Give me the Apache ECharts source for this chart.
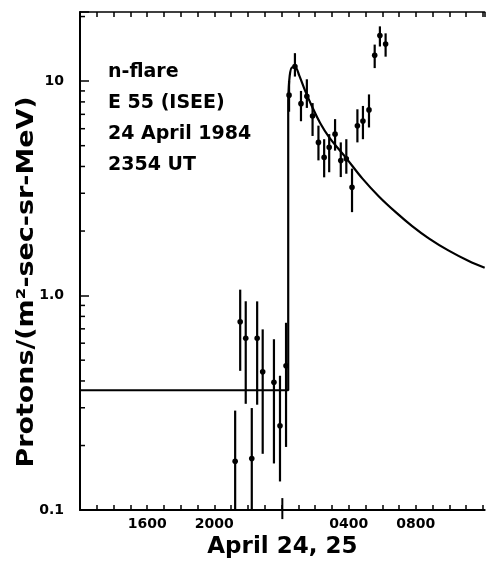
<!DOCTYPE html>
<html>
<head>
<meta charset="utf-8">
<script src="https://cdn.jsdelivr.net/npm/echarts@6/dist/echarts.min.js"></script>
<style>
  html, body { margin: 0; padding: 0; background: #fff; }
  #chart { width: 486px; height: 564px; }
</style>
</head>
<body>
<div id="chart"></div>
<script>
// time in hours from 00:00 UT April 24 (28 = 0400 on April 25)
const obsHours = [21.24, 21.54, 21.87, 22.23, 22.55, 22.88, 23.55, 23.91, 24.27, 24.45, 24.80, 25.16, 25.51, 25.85, 26.20, 26.54, 26.84, 27.19, 27.53, 27.86, 28.20, 28.52, 28.85, 29.21, 29.55, 29.86, 30.20];
const obsFlux = [0.169, 0.755, 0.632, 0.174, 0.632, 0.441, 0.394, 0.247, 0.471, 8.6, 11.7, 7.85, 8.5, 6.88, 5.18, 4.41, 4.91, 5.66, 4.26, 4.34, 3.20, 6.19, 6.52, 7.34, 13.2, 16.3, 14.9];
const obsLow = [0.1, 0.446, 0.313, 0.1, 0.31, 0.183, 0.165, 0.136, 0.197, 7.2, 10.5, 6.5, 7.5, 5.55, 4.27, 3.56, 3.76, 4.74, 3.57, 3.70, 2.45, 5.18, 5.36, 6.08, 11.5, 14.5, 13.0];
const obsHigh = [0.291, 1.066, 0.941, 0.299, 0.94, 0.696, 0.626, 0.423, 0.747, 10.0, 13.5, 9.0, 10.2, 7.9, 6.2, 5.36, 5.66, 6.65, 5.18, 5.36, 3.91, 7.39, 7.66, 8.67, 14.8, 18.0, 16.7];

// model curve: flat background, prompt rise, then decay
const baseHours = [12, 24.40, 24.40];
const baseFlux = [0.362, 0.362, 8.08];
const decayHours = [24.40, 24.49, 24.64, 24.82, 25.06, 25.41, 25.85, 26.30, 26.84, 27.83, 28.81, 29.80, 30.80, 31.78, 32.77, 33.96, 35.15, 36.10];
const decayFlux = [8.08, 10.6, 11.6, 11.6, 10.6, 9.0, 7.52, 6.38, 5.47, 4.40, 3.52, 2.90, 2.45, 2.11, 1.85, 1.62, 1.45, 1.35];

const xTickHours = [16, 20, 28, 32];
const xTickText = ['1600', '2000', '0400', '0800'];
const yTickValues = [0.1, 1, 10];
const yTickText = ['0.1', '1.0', '10'];
const yMinorValues = [0.2, 0.3, 0.4, 0.5, 0.6, 0.7, 0.8, 0.9, 2, 3, 4, 5, 6, 7, 8, 9, 20];
const flareHour = 24.05;
const notes = ['n-flare', 'E 55 (ISEE)', '24 April 1984', '2354 UT'];

const FONT = 'DejaVu Sans';
const chart = echarts.init(document.getElementById('chart'));

const errData = obsHours.map((h, i) => [h, obsLow[i], obsHigh[i], obsFlux[i]]);

const option = {
    backgroundColor: '#fff',
    animation: false,
    grid: { left: 80, right: 0, top: 12, bottom: 51 },
    xAxis: [
        {
            type: 'value', min: 12, max: 36.1, interval: 1,
            axisLine: { lineStyle: { color: '#000', width: 2 } },
            axisTick: { inside: true, length: 5, lineStyle: { color: '#000', width: 1.5 } },
            splitLine: { show: false },
            axisLabel: {
                color: '#000', fontFamily: FONT, fontWeight: 'bold', fontSize: 14, margin: 7,
                showMaxLabel: false, showMinLabel: false,
                formatter: v => { const k = xTickHours.indexOf(v); return k < 0 ? '' : xTickText[k]; }
            },
            name: 'April 24, 25', nameLocation: 'middle', nameGap: 24,
            nameTextStyle: { color: '#000', fontFamily: FONT, fontWeight: 'bold', fontSize: 23 }
        },
        {
            type: 'value', position: 'top', min: 12, max: 36.1, interval: 1,
            axisLine: { lineStyle: { color: '#000', width: 1.5 } },
            axisTick: { inside: true, length: 5, lineStyle: { color: '#000', width: 1.5 } },
            axisLabel: { show: false }, splitLine: { show: false }
        }
    ],
    yAxis: {
        type: 'log', min: 0.1, max: 21,
        axisLine: { show: true, lineStyle: { color: '#000', width: 2 } },
        axisTick: { show: true, inside: true, length: 9, lineStyle: { color: '#000', width: 1.5 } },
        splitLine: { show: false },
        axisLabel: {
            color: '#000', fontFamily: FONT, fontWeight: 'bold', fontSize: 14, margin: 16,
            formatter: v => {
                const k = yTickValues.findIndex(t => Math.abs(t - v) < 1e-6);
                return k < 0 ? '' : yTickText[k];
            }
        }
    },
    graphic: [
        {
            type: 'text', x: 27, y: 282, rotation: Math.PI / 2, scaleX: 1.17,
            style: {
                text: 'Protons/(m²-sec-sr-MeV)', fill: '#000',
                font: 'bold 23px "' + FONT + '"', textAlign: 'center', textVerticalAlign: 'middle'
            }
        }
    ].concat(notes.map((t, i) => ({
        type: 'text', x: 108, y: 72 + i * 31,
        style: { text: t, fill: '#000', font: 'bold 19px "' + FONT + '"', textAlign: 'left', textVerticalAlign: 'middle' }
    }))),
    series: [
        {
            type: 'line', data: baseHours.map((h, i) => [h, baseFlux[i]]),
            showSymbol: false, lineStyle: { color: '#000', width: 2.2 }, z: 3
        },
        {
            type: 'line', data: decayHours.map((h, i) => [h, decayFlux[i]]),
            showSymbol: false, smooth: 0.35, lineStyle: { color: '#000', width: 2.2 }, z: 3
        },
        {
            type: 'custom', data: errData, z: 4,
            renderItem: function (params, api) {
                const x = api.value(0);
                const lo = api.coord([x, api.value(1)]);
                const hi = api.coord([x, api.value(2)]);
                const mid = api.coord([x, api.value(3)]);
                return {
                    type: 'group',
                    children: [
                        { type: 'line', shape: { x1: lo[0], y1: lo[1], x2: hi[0], y2: hi[1] }, style: { stroke: '#000', lineWidth: 2.2 } },
                        { type: 'circle', shape: { cx: mid[0], cy: mid[1], r: 2.8 }, style: { fill: '#000' } }
                    ]
                };
            }
        },
        {
            // minor decade ticks on the left axis
            type: 'custom', data: yMinorValues.map(v => [12, v]), z: 5,
            renderItem: function (params, api) {
                const p = api.coord([api.value(0), api.value(1)]);
                return { type: 'line', shape: { x1: p[0], y1: p[1], x2: p[0] + 5, y2: p[1] }, style: { stroke: '#000', lineWidth: 1.5 } };
            }
        },
        {
            // long tick marking the flare time
            type: 'custom', data: [[flareHour, 0.1]], z: 5,
            renderItem: function (params, api) {
                const p = api.coord([api.value(0), api.value(1)]);
                return { type: 'line', shape: { x1: p[0], y1: p[1] - 12, x2: p[0], y2: p[1] + 9 }, style: { stroke: '#000', lineWidth: 2 } };
            }
        }
    ]
};
chart.setOption(option);
</script>
</body>
</html>
